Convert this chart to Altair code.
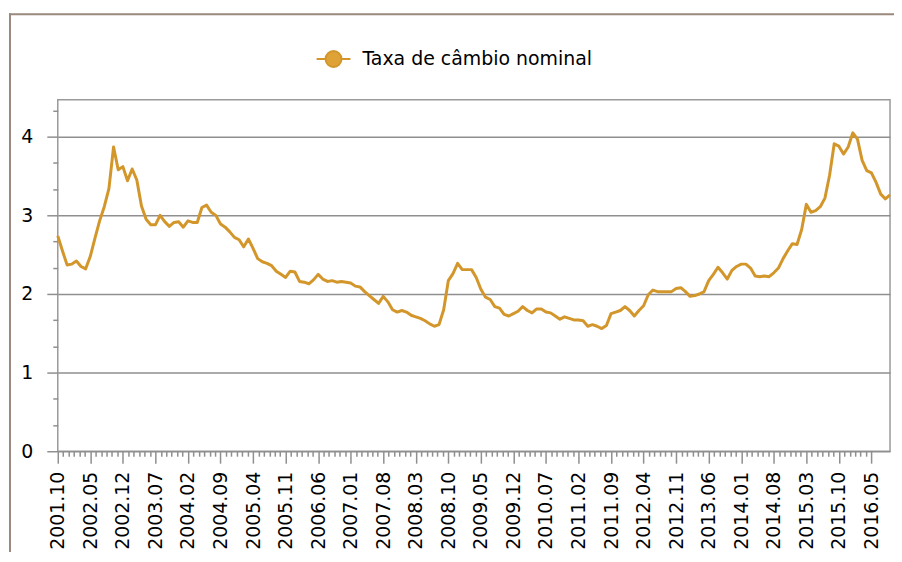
import json
import altair as alt
import pandas as pd

# ---- data (monthly, 2001.10 .. 2016.09) ----
series_name = "Taxa de câmbio nominal"
values = [
    2.74, 2.55, 2.37,
    2.38, 2.42, 2.35, 2.32, 2.48, 2.71, 2.93, 3.11, 3.34, 3.87, 3.58, 3.62,
    3.44, 3.59, 3.45, 3.12, 2.95, 2.88, 2.88, 3.00, 2.92, 2.86, 2.91, 2.92,
    2.85, 2.93, 2.91, 2.91, 3.10, 3.13, 3.04, 3.00, 2.89, 2.85, 2.79, 2.72,
    2.69, 2.60, 2.70, 2.58, 2.45, 2.41, 2.39, 2.36, 2.29, 2.25, 2.21, 2.29,
    2.28, 2.16, 2.15, 2.13, 2.18, 2.25, 2.19, 2.16, 2.17, 2.15, 2.16, 2.15,
    2.14, 2.10, 2.09, 2.03, 1.98, 1.93, 1.88, 1.97, 1.90, 1.80, 1.77, 1.79,
    1.77, 1.73, 1.71, 1.69, 1.66, 1.62, 1.59, 1.61, 1.80, 2.17, 2.26, 2.39,
    2.31, 2.31, 2.31, 2.21, 2.06, 1.96, 1.93, 1.84, 1.82, 1.74, 1.72, 1.75,
    1.78, 1.84, 1.79, 1.76, 1.81, 1.81, 1.77, 1.76, 1.72, 1.68, 1.71, 1.69,
    1.67, 1.67, 1.66, 1.59, 1.61, 1.59, 1.56, 1.60, 1.75, 1.77, 1.79, 1.84,
    1.79, 1.72, 1.79, 1.85, 1.99, 2.05, 2.03, 2.03, 2.03, 2.03, 2.07, 2.08,
    2.03, 1.97, 1.98, 2.00, 2.03, 2.17, 2.25, 2.34, 2.27, 2.19, 2.30, 2.35,
    2.38, 2.38, 2.33, 2.23, 2.22, 2.23, 2.22, 2.27, 2.33, 2.45, 2.55, 2.64,
    2.63, 2.82, 3.14, 3.04, 3.06, 3.11, 3.22, 3.51, 3.91, 3.88, 3.78, 3.87,
    4.05, 3.97, 3.70, 3.57, 3.54, 3.42, 3.27, 3.21, 3.26,
]
tick_labels = [
    "2001.10", "2002.05", "2002.12", "2003.07", "2004.02", "2004.09",
    "2005.04", "2005.11", "2006.06", "2007.01", "2007.08", "2008.03",
    "2008.10", "2009.05", "2009.12", "2010.07", "2011.02", "2011.09",
    "2012.04", "2012.11", "2013.06", "2014.01", "2014.08", "2015.03",
    "2015.10", "2016.05",
]
y_labels = [0, 1, 2, 3, 4]

# ---- styles ----
LINE = "#D3962B"
SYM_FILL = "#DEA237"
GRID = "#8F8F8F"
FRAME = "#9A897D"
FONT = "DejaVu Sans"

df = pd.DataFrame({"i": list(range(len(values))), "taxa": values, "serie": series_name})

# ticks: majors every 7 months (labelled), 5 minor ticks between
step = 7
major_x = [step * k for k in range(len(tick_labels))]
minor_x = [k * step / 6 for k in range(0, 6 * (len(tick_labels) - 1) + 1) if k % 6 != 0]
x_ticks = sorted(major_x + minor_x)

y_ticks = [k / 3 for k in range(0, 14)]

x_is_major = "datum.value % 7 == 0"
x_label_expr = f"{x_is_major} ? {json.dumps(tick_labels)}[round(datum.value / 7)] : ''"
y_is_major = "abs(datum.value - round(datum.value)) < 0.001"
y_label_expr = f"{y_is_major} ? '' + round(datum.value) : ''"

sym = ("M-1,0L-0.47,0M0.47,0L1,0"
       "M0.47,0A0.47,0.47,0,1,1,-0.47,0A0.47,0.47,0,1,1,0.47,0Z")

line = alt.Chart(df).mark_line(strokeWidth=3, strokeJoin="round").encode(
    x=alt.X(
        "i:Q",
        scale=alt.Scale(domain=[0, len(values) - 1], nice=False, zero=False),
        axis=alt.Axis(
            values=x_ticks,
            labelExpr=x_label_expr,
            labelAngle=-90,
            tickSize={"condition": {"test": x_is_major, "value": 12}, "value": 5},
            tickColor=GRID,
            tickWidth=1.5,
            labelPadding=8,
            grid=False,
            domain=False,
            title=None,
            labelOverlap=False,
            labelFlush=False,
            labelFont=FONT,
            labelFontSize=19,
            labelColor="#000000",
        ),
    ),
    y=alt.Y(
        "taxa:Q",
        scale=alt.Scale(domain=[0, 4.47], nice=False),
        axis=alt.Axis(
            values=y_ticks,
            labelExpr=y_label_expr,
            tickSize={"condition": {"test": y_is_major, "value": 11}, "value": 5},
            tickColor=GRID,
            tickWidth=1.5,
            grid=True,
            gridColor=GRID,
            gridWidth=1.5,
            gridOpacity={"condition": {"test": y_is_major, "value": 1}, "value": 0},
            labelPadding=14,
            domain=False,
            title=None,
            labelOverlap=False,
            labelFlush=False,
            labelFont=FONT,
            labelFontSize=19,
            labelColor="#000000",
        ),
    ),
    color=alt.Color(
        "serie:N",
        scale=alt.Scale(domain=[series_name], range=[LINE]),
        legend=alt.Legend(
            title=None,
            orient="none",
            legendX=259,
            legendY=-59,
            padding=0,
            symbolType=sym,
            symbolSize=1156,
            symbolStrokeWidth=2,
            symbolFillColor=SYM_FILL,
            symbolStrokeColor=LINE,
            labelOffset=11,
            labelLimit=0,
            labelFont=FONT,
            labelFontSize=19,
            labelColor="#000000",
        ),
    ),
)

frame_data = alt.Data(values=[{"k": 0}])
frame_left = alt.Chart(frame_data).mark_rule(color=FRAME, strokeWidth=2).encode(
    x=alt.value(-48), y=alt.value(-87), y2=alt.value(470)
)
frame_top = alt.Chart(frame_data).mark_rule(color=FRAME, strokeWidth=2).encode(
    x=alt.value(-49), x2=alt.value(850), y=alt.value(-86)
)

chart = alt.layer(line, frame_left, frame_top).properties(
    width=836,
    height=353,
    autosize=alt.AutoSizeParams(type="none"),
    padding={"left": 50, "top": 91, "right": 4, "bottom": 100},
).configure_view(stroke="#9A9A9A", strokeWidth=1.5)

chart.save("out.html", embed_options={"renderer": "svg", "actions": False})
